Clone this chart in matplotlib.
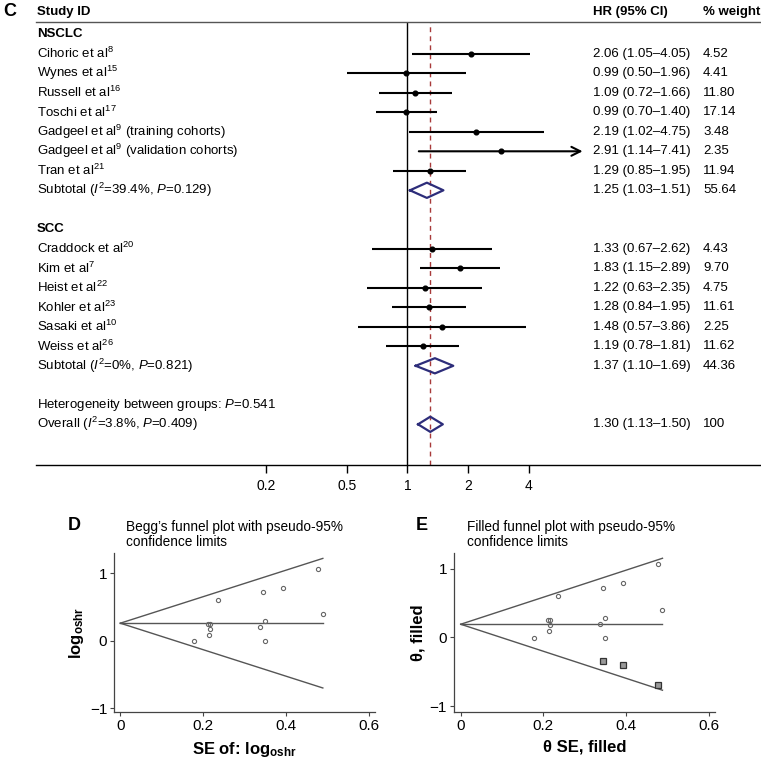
import matplotlib
matplotlib.use("Agg")
import matplotlib.pyplot as plt
import matplotlib.transforms as mtransforms

plt.rcParams['font.family'] = ['Liberation Sans', 'DejaVu Sans']
plt.rcParams['mathtext.fontset'] = 'custom'
plt.rcParams['mathtext.rm'] = 'Liberation Sans'
plt.rcParams['mathtext.it'] = 'Liberation Sans:italic'
plt.rcParams['mathtext.bf'] = 'Liberation Sans:bold'

# ---- forest plot data ----
nsclc_studies = ["Cihoric et al$^{8}$", "Wynes et al$^{15}$", "Russell et al$^{16}$", "Toschi et al$^{17}$",
                 "Gadgeel et al$^{9}$ (training cohorts)", "Gadgeel et al$^{9}$ (validation cohorts)",
                 "Tran et al$^{21}$"]
nsclc_hr = [2.06, 0.99, 1.09, 0.99, 2.19, 2.91, 1.29]
nsclc_lo = [1.05, 0.50, 0.72, 0.70, 1.02, 1.14, 0.85]
nsclc_hi = [4.05, 1.96, 1.66, 1.40, 4.75, 7.41, 1.95]
nsclc_w = ["4.52", "4.41", "11.80", "17.14", "3.48", "2.35", "11.94"]

scc_studies = ["Craddock et al$^{20}$", "Kim et al$^{7}$", "Heist et al$^{22}$", "Kohler et al$^{23}$",
               "Sasaki et al$^{10}$", "Weiss et al$^{26}$"]
scc_hr = [1.33, 1.83, 1.22, 1.28, 1.48, 1.19]
scc_lo = [0.67, 1.15, 0.63, 0.84, 0.57, 0.78]
scc_hi = [2.62, 2.89, 2.35, 1.95, 3.86, 1.81]
scc_w = ["4.43", "9.70", "4.75", "11.61", "2.25", "11.62"]

# pooled: (label, hr, lo, hi, weight)
nsclc_sub = ["Subtotal ($I^{2}$=39.4%, $P$=0.129)", 1.25, 1.03, 1.51, "55.64"]
scc_sub = ["Subtotal ($I^{2}$=0%, $P$=0.821)", 1.37, 1.10, 1.69, "44.36"]
overall = ["Overall ($I^{2}$=3.8%, $P$=0.409)", 1.30, 1.13, 1.50, "100"]
het_text = "Heterogeneity between groups: $P$=0.541"
forest_ticks = [0.2, 0.5, 1, 2, 4]

# ---- funnel plot data ----
funnel_se = [0.344, 0.348, 0.213, 0.177, 0.392, 0.477, 0.212, 0.348, 0.235, 0.336, 0.215, 0.488, 0.215]
funnel_loghr = [0.723, -0.010, 0.086, -0.010, 0.784, 1.068, 0.255, 0.285, 0.604, 0.199, 0.247, 0.392, 0.174]
limit_se = [0, 0.488]
begg_center = [0.26, 0.26]
begg_upper = [0.26, 1.22]
begg_lower = [0.26, -0.70]
fill_center = [0.19, 0.19]
fill_upper = [0.19, 1.15]
fill_lower = [0.19, -0.77]
filled_se = [0.344, 0.392, 0.477]
filled_theta = [-0.34, -0.40, -0.69]

W, H = 761, 762
fig = plt.figure(figsize=(W / 100, H / 100), dpi=100)

def fbox(x0, y0, x1, y1):
    # pixel box (top-left origin) -> figure fraction rect
    return [x0 / W, (H - y1) / H, (x1 - x0) / W, (y1 - y0) / H]

# ================= C: forest plot =================
ax = fig.add_axes(fbox(36, 22, 761, 465))
ax.set_xscale('log')
ax.set_xlim(0.01436, 56.9)
row_h = 19.5
ax.set_ylim((465 - 34.3) / row_h, (22 - 34.3) / row_h)
for s in ['left', 'right']:
    ax.spines[s].set_visible(False)
ax.spines['top'].set_color('#555555')
ax.spines['top'].set_linewidth(1.0)
ax.spines['bottom'].set_linewidth(1.0)
ax.set_yticks([])
ax.set_xticks(forest_ticks)
ax.set_xticklabels([f"{t:g}" for t in forest_ticks], fontsize=10)
ax.xaxis.set_minor_locator(matplotlib.ticker.NullLocator())
ax.tick_params(axis='x', direction='out', length=6, width=1, pad=4)

tr = mtransforms.blended_transform_factory(ax.transAxes, ax.transData)
x_lab, x_hr, x_w = 0.0014, 0.768, 0.92
fs = 9.5

ax.axvline(1, color='black', lw=1.0, zorder=1)
ax.axvline(overall[1], color='#a83a3a', lw=1.0, ls=(0, (3.5, 3)), zorder=1)

ax.text(x_lab, (11.5 - 34.3) / row_h, "Study ID", transform=tr, fontsize=fs, fontweight='bold', va='center', clip_on=False)
ax.text(x_hr, (11.5 - 34.3) / row_h, "HR (95% CI)", transform=tr, fontsize=fs, fontweight='bold', va='center', clip_on=False)
ax.text(x_w, (11.5 - 34.3) / row_h, "% weight", transform=tr, fontsize=fs, fontweight='bold', va='center', clip_on=False)
fig.text(3 / W, 1 - 11 / H, "C", fontsize=13, fontweight='bold', va='center')

def study_row(y, name, hr, lo, hi, w):
    ax.text(x_lab, y, name, transform=tr, fontsize=fs, va='center')
    ax.text(x_hr, y, f"{hr:.2f} ({lo:.2f}\u2013{hi:.2f})", transform=tr, fontsize=fs, va='center')
    ax.text(x_w, y, w, transform=tr, fontsize=fs, va='center')
    if hi > 7:
        ax.annotate('', xy=(hi, y), xytext=(lo, y),
                    arrowprops=dict(arrowstyle='->', lw=1.5, color='black', mutation_scale=16,
                                    shrinkA=0, shrinkB=0))
    else:
        ax.plot([lo, hi], [y, y], color='black', lw=1.5, solid_capstyle='butt')
    ax.plot(hr, y, 'o', color='black', ms=3.4)

def pooled_row(y, label, hr, lo, hi, w, dh=0.39):
    ax.text(x_lab, y, label, transform=tr, fontsize=fs, va='center')
    ax.text(x_hr, y, f"{hr:.2f} ({lo:.2f}\u2013{hi:.2f})", transform=tr, fontsize=fs, va='center')
    ax.text(x_w, y, w, transform=tr, fontsize=fs, va='center')
    ax.plot([lo, hr, hi, hr, lo], [y, y - dh, y, y + dh, y], color='#2d2d7a', lw=1.6, zorder=3)

ax.text(x_lab, 0, "NSCLC", transform=tr, fontsize=fs, fontweight='bold', va='center')
r = 1
for i in range(len(nsclc_studies)):
    study_row(r, nsclc_studies[i], nsclc_hr[i], nsclc_lo[i], nsclc_hi[i], nsclc_w[i])
    r += 1
pooled_row(r, *nsclc_sub)
r += 2
ax.text(x_lab, r, "SCC", transform=tr, fontsize=fs, fontweight='bold', va='center')
r += 1
for i in range(len(scc_studies)):
    study_row(r, scc_studies[i], scc_hr[i], scc_lo[i], scc_hi[i], scc_w[i])
    r += 1
pooled_row(r, *scc_sub)
r += 2
ax.text(x_lab, r, het_text, transform=tr, fontsize=fs, va='center')
r += 1
pooled_row(r, *overall)

# ================= D / E: funnel plots =================
def funnel_axes(box, xlim, ylim):
    a = fig.add_axes(fbox(*box))
    a.set_xlim(*xlim)
    a.set_ylim(*ylim)
    for s in ['top', 'right']:
        a.spines[s].set_visible(False)
    for s in ['left', 'bottom']:
        a.spines[s].set_color('#444444')
        a.spines[s].set_linewidth(0.9)
    a.set_xticks([0, 0.2, 0.4, 0.6])
    a.set_xticklabels(["0", "0.2", "0.4", "0.6"])
    a.set_yticks([-1, 0, 1])
    a.set_yticklabels(["\u22121", "0", "1"])
    a.tick_params(labelsize=11, length=3, width=0.8, pad=2, color='#444444')
    return a

axd = funnel_axes((114.3, 553, 375, 712), (-0.0145, 0.6137), (-1.056, 1.30))
axd.plot(limit_se, begg_center, color='#555555', lw=1.0)
axd.plot(limit_se, begg_upper, color='#555555', lw=1.0)
axd.plot(limit_se, begg_lower, color='#555555', lw=1.0)
axd.plot(funnel_se, funnel_loghr, 'o', ms=3.0, mfc='none', mec='#666666', mew=0.8)
axd.set_xlabel(r"SE of: log$_{\mathbf{oshr}}$", fontsize=12, fontweight='bold', labelpad=5)
axd.set_ylabel(r"log$_{\mathbf{oshr}}$", fontsize=12, fontweight='bold', labelpad=3)
fig.text(68 / W, 1 - 525 / H, "D", fontsize=13, fontweight='bold', va='center')
fig.text(126 / W, 1 - 534.5 / H, "Begg\u2019s funnel plot with pseudo-95%\nconfidence limits",
         fontsize=9.8, va='center', linespacing=1.15)

axe = funnel_axes((454, 552.7, 715, 712), (-0.0162, 0.615), (-1.087, 1.231))
axe.plot(limit_se, fill_center, color='#555555', lw=1.0)
axe.plot(limit_se, fill_upper, color='#555555', lw=1.0)
axe.plot(limit_se, fill_lower, color='#555555', lw=1.0)
axe.plot(funnel_se, funnel_loghr, 'o', ms=3.0, mfc='none', mec='#666666', mew=0.8)
axe.plot(filled_se, filled_theta, 's', ms=4.2, mfc='#999999', mec='#333333', mew=0.9)
axe.set_xlabel("\u03b8 SE, filled", fontsize=12, fontweight='bold', labelpad=5)
axe.set_ylabel("\u03b8, filled", fontsize=12, fontweight='bold', labelpad=3)
fig.text(416 / W, 1 - 525 / H, "E", fontsize=13, fontweight='bold', va='center')
fig.text(466.7 / W, 1 - 534.5 / H, "Filled funnel plot with pseudo-95%\nconfidence limits",
         fontsize=9.8, va='center', linespacing=1.15)

fig.savefig("out.png", dpi=100)
